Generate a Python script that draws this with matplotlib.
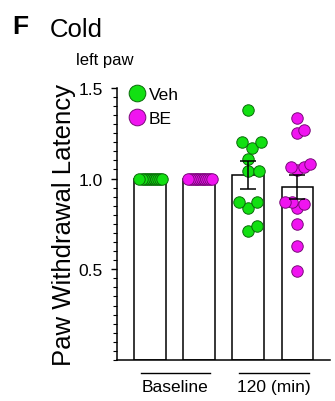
import numpy as np
import matplotlib
matplotlib.use("Agg")
import matplotlib.pyplot as plt
from matplotlib.lines import Line2D
from matplotlib.ticker import MultipleLocator

plt.rcParams['font.family'] = ['Liberation Sans', 'DejaVu Sans']

# paw withdrawal latency, left paw, cold test
groups = ["Baseline", "120 (min)"]
veh_base = [1.0] * 12
be_base = [1.0] * 14
veh_120 = [0.71, 0.74, 0.84, 0.87, 0.87, 1.04, 1.04, 1.11, 1.17, 1.20, 1.20, 1.38]
be_120 = [0.49, 0.63, 0.75, 0.84, 0.86, 0.87, 0.87, 1.045, 1.065, 1.065, 1.08, 1.25, 1.27, 1.335]
bar_means = [1.0, 1.0, 1.02, 0.955]
bar_sems = [0.0, 0.0, 0.078, 0.065]

green, green_edge = "#12e012", "#0a6a0a"
magenta, magenta_edge = "#f014f0", "#7a0a7a"

fig = plt.figure(figsize=(3.35, 4.02), dpi=100)
ax = fig.add_axes([0.349, 0.102, 0.636, 0.677])
ax.set_xlim(-0.67, 3.66)
ax.set_ylim(0, 1.5)

pos = np.arange(4)
ax.bar(pos, bar_means, width=0.65, color="white", edgecolor="black",
       linewidth=1.1, zorder=1)


def swarm(vals, x0, d_px=11.5, max_px=12.5):
    # simple beeswarm in pixel space, squeezed if it gets too wide
    sx = ax.transData.transform([(1, 0)])[0][0] - ax.transData.transform([(0, 0)])[0][0]
    sy = ax.transData.transform([(0, 1)])[0][1] - ax.transData.transform([(0, 0)])[0][1]
    placed = []
    for v in vals:
        y = v * sy
        cands = [0.0]
        for px, py in placed:
            dy = y - py
            if abs(dy) < d_px:
                dx = np.sqrt(d_px ** 2 - dy ** 2)
                cands += [px + dx, px - dx]
        cands.sort(key=abs)
        for c in cands:
            if all((c - px) ** 2 + (y - py) ** 2 >= d_px ** 2 - 1e-6 for px, py in placed):
                placed.append((c, y))
                break
    xs = np.array([p[0] for p in placed])
    if np.abs(xs).max() > max_px:
        xs = xs * max_px / np.abs(xs).max()
    return x0 + xs / sx


sets = [(veh_base, green, green_edge), (be_base, magenta, magenta_edge),
        (veh_120, green, green_edge), (be_120, magenta, magenta_edge)]
for i, (vals, fc, ec) in enumerate(sets):
    ax.scatter(swarm(vals, pos[i]), vals, s=68, color=fc, edgecolor=ec,
               linewidth=0.7, zorder=2)

for i in range(4):
    if bar_sems[i] > 0:
        ax.errorbar(pos[i], bar_means[i], yerr=bar_sems[i], color="black",
                    capsize=6, elinewidth=1.1, capthick=1.1, zorder=3)

for s in ["top", "right"]:
    ax.spines[s].set_visible(False)
ax.spines["left"].set_linewidth(1.1)
ax.spines["bottom"].set_linewidth(1.1)
ax.set_xticks([])
ax.yaxis.set_major_locator(MultipleLocator(0.5))
ax.yaxis.set_minor_locator(MultipleLocator(0.05))
ax.set_yticks([0.5, 1.0, 1.5])
ax.set_yticklabels(["0.5", "1.0", "1.5"], fontsize=12.5)
ax.tick_params(axis="y", which="major", length=4, width=1, pad=6)
ax.tick_params(axis="y", which="minor", length=3, width=0.8)
ax.set_ylabel("Paw Withdrawal Latency", fontsize=18.5, labelpad=2)

# group labels under the pairs of bars
trans = ax.get_xaxis_transform()
for k, name in enumerate(groups):
    c = 2 * k + 0.52
    ax.plot([c - 0.71, c + 0.71], [-0.048, -0.048], color="black", lw=1,
            transform=trans, clip_on=False)
    ax.text(c, -0.098, name, transform=trans, ha="center", va="center",
            fontsize=12.5)

handles = [Line2D([], [], marker="o", ls="none", markersize=12,
                  markerfacecolor=green, markeredgecolor=green_edge, markeredgewidth=0.7),
           Line2D([], [], marker="o", ls="none", markersize=12,
                  markerfacecolor=magenta, markeredgecolor=magenta_edge, markeredgewidth=0.7)]
ax.legend(handles, ["Veh", "BE"], loc="upper left", bbox_to_anchor=(0.055, 1.005),
          frameon=False, fontsize=12.5, handlelength=1.0, handletextpad=0.15,
          labelspacing=0.55, borderpad=0, borderaxespad=0)

fig.text(12 / 335, 1 - 34 / 402, "F", fontsize=19, fontweight="bold")
fig.text(50 / 335, 1 - 37 / 402, "Cold", fontsize=18.5)
fig.text(76 / 335, 1 - 65 / 402, "left paw", fontsize=12)

fig.savefig("out.png", dpi=100)
